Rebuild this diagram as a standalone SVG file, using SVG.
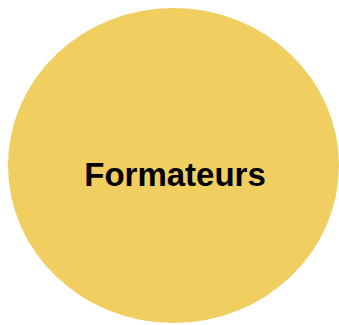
<svg xmlns="http://www.w3.org/2000/svg" width="339" height="325" viewBox="0 0 339 325">
<style>
.node{fill:#F0CE60;}
.label{font-family:"Liberation Sans",Arial,sans-serif;font-weight:bold;font-size:33px;fill:#000;text-anchor:middle;}
</style>
<rect width="339" height="325" fill="#fff"/>
<g id="connectors"></g>
<g id="node-formateurs">
<ellipse class="node" cx="173.5" cy="165.5" rx="165.5" ry="157.5"/>
<text class="label" x="175" y="186">Formateurs</text>
</g>
</svg>
